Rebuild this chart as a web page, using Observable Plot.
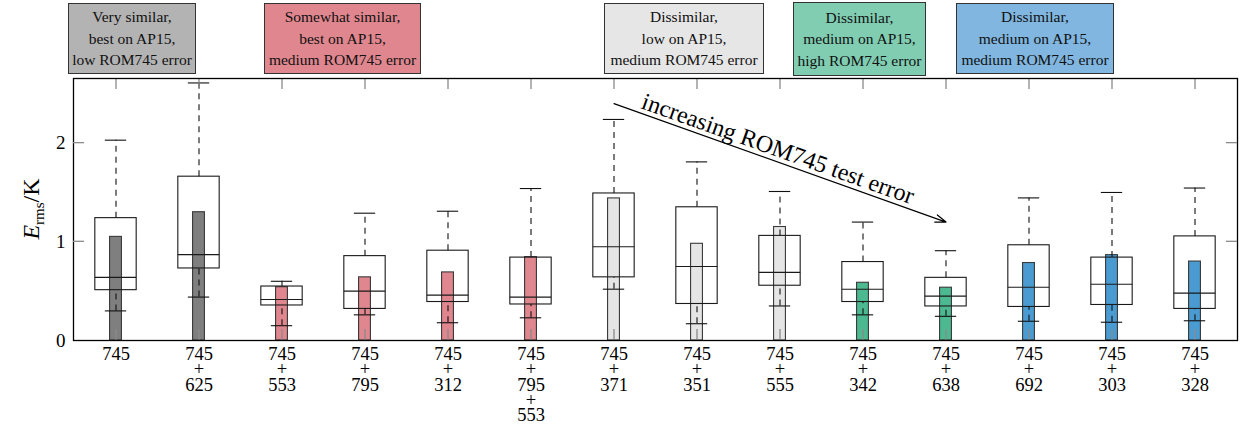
<!DOCTYPE html>
<html>
<head>
<meta charset="utf-8">
<script src="https://cdn.jsdelivr.net/npm/d3@7"></script>
<script src="https://cdn.jsdelivr.net/npm/@observablehq/plot@0.6"></script>
<style>
  html, body { margin: 0; padding: 0; background: #fff; }
  #wrap { position: relative; width: 1242px; height: 428px; font-family: "Liberation Serif", serif; }
  .lg { position: absolute; box-sizing: border-box; border: 1px solid #333; display: flex; flex-direction: column;
        justify-content: center; align-items: center; font-size: 15.5px; line-height: 21.5px; color: #111; }
  svg { display: block; }
</style>
</head>
<body>
<div id="wrap"></div>
<script>
// ---- data ----
const labels = ["745","745+625","745+553","745+795","745+312","745+795+553","745+371","745+351","745+555","745+342","745+638","745+692","745+303","745+328"];
const groups = [0,0,1,1,1,1,2,2,2,3,3,4,4,4];
const whiskerLow  = [0.30, 0.44, 0.15, 0.26, 0.18, 0.23, 0.52, 0.17, 0.35, 0.26, 0.245, 0.195, 0.185, 0.20];
const q1          = [0.51, 0.73, 0.355,0.32, 0.39, 0.365,0.64, 0.37, 0.555,0.39, 0.345, 0.34, 0.36, 0.32];
const median      = [0.64, 0.87, 0.415,0.50, 0.46, 0.44, 0.95, 0.75, 0.69, 0.52, 0.45, 0.54, 0.57, 0.48];
const q3          = [1.24, 1.66, 0.547,0.855,0.91, 0.84, 1.49, 1.35, 1.06, 0.795,0.635, 0.965,0.84, 1.055];
const whiskerHigh = [2.03, 2.61, 0.60, 1.29, 1.31, 1.54, 2.24, 1.81, 1.51, 1.20, 0.91, 1.445,1.50, 1.545];
const barValue    = [1.05, 1.30, 0.54, 0.64, 0.69, 0.845,1.44, 0.98, 1.15, 0.585,0.535, 0.785,0.865,0.80];
const yTicks = [0, 1, 2];
const barColors    = ["#7f7f7f", "#e0868e", "#e5e5e5", "#4cb991", "#4a9bd1"];
const legendColors = ["#b3b3b3", "#e0868e", "#e6e6e6", "#80cdb2", "#80b6df"];
const legendLabels = [
  ["Very similar,", "best on AP15,", "low ROM745 error"],
  ["Somewhat similar,", "best on AP15,", "medium ROM745 error"],
  ["Dissimilar,", "low on AP15,", "medium ROM745 error"],
  ["Dissimilar,", "medium on AP15,", "high ROM745 error"],
  ["Dissimilar,", "medium on AP15,", "medium ROM745 error"]
];
const annotation = {from: "745+371", fromY: 2.4, to: "745+638", toY: 1.2, textAt: "745+555", textY: 1.8, text: "increasing ROM745 test error"};

const rows = labels.map((l, i) => ({
  label: l, group: groups[i], lo: whiskerLow[i], q1: q1[i], med: median[i], q3: q3[i], hi: whiskerHigh[i], bar: barValue[i]
}));

// ---- layout ----
const W = 1242, H = 428, mL = 73, mR = 5, mT = 78, mB = 88;
const bw = (W - mL - mR) / labels.length;
const boxInset = (bw - 41.5) / 2;
const barInset = (bw - 12) / 2;
const capInset = (bw - 21.5) / 2;
const font = "Liberation Serif, serif";
const tickLen = 11;
const yMax = 2.655;
const tickData = yMax * tickLen / (H - mT - mB);

const plot = Plot.plot({
  width: W, height: H,
  marginLeft: mL, marginRight: mR, marginTop: mT, marginBottom: mB,
  style: {fontFamily: font, background: "transparent"},
  x: {type: "band", domain: labels, padding: 0, label: null},
  y: {domain: [0, yMax], label: null},
  marks: [
    Plot.rect(rows, {x: "label", y1: 0, y2: "bar", fill: d => barColors[d.group], stroke: "#3a3a3a", strokeWidth: 1.1, insetLeft: barInset, insetRight: barInset}),
    Plot.ruleX(rows, {x: "label", y1: "q3", y2: "hi", stroke: "#111", strokeWidth: 1.1, strokeDasharray: "6,5"}),
    Plot.ruleX(rows, {x: "label", y1: "lo", y2: "q1", stroke: "#111", strokeWidth: 1.1, strokeDasharray: "6,5"}),
    Plot.rect(rows, {x: "label", y1: "q1", y2: "q3", fill: "none", stroke: "#1a1a1a", strokeWidth: 1.1, insetLeft: boxInset, insetRight: boxInset}),
    Plot.tickY(rows, {x: "label", y: "med", stroke: "#1a1a1a", strokeWidth: 1.1, insetLeft: boxInset, insetRight: boxInset}),
    Plot.tickY(rows, {x: "label", y: "hi", stroke: "#111", strokeWidth: 1.1, insetLeft: capInset, insetRight: capInset}),
    Plot.tickY(rows, {x: "label", y: "lo", stroke: "#111", strokeWidth: 1.1, insetLeft: capInset, insetRight: capInset}),
    // inner x ticks top & bottom
    Plot.ruleX(labels, {x: d => d, y1: 0, y2: tickData, stroke: "#8a8a8a", strokeWidth: 1.3}),
    Plot.ruleX(labels, {x: d => d, y1: yMax, y2: yMax - tickData, stroke: "#8a8a8a", strokeWidth: 1.3}),
    Plot.frame({stroke: "#000", strokeWidth: 1.3}),
    Plot.axisY(yTicks, {tickSize: 0, tickPadding: 8, fontSize: 19, fontFamily: font, fill: "#000", label: null, tickFormat: d => String(d)}),
    Plot.axisX({tickSize: 0, tickPadding: 9, fontSize: 18.5, fontFamily: font, fill: "#000", label: null, lineHeight: 0.82,
      tickFormat: d => d.split("+").join("\n+\n")}),
    Plot.arrow([annotation], {x1: "from", y1: "fromY", x2: "to", y2: "toY", stroke: "#000", strokeWidth: 1.2, headLength: 14, headAngle: 40}),
    Plot.text([annotation], {x: "textAt", y: "textY", text: "text", rotate: 19.6, dx: -2, dy: -14, fontSize: 24, fontFamily: font, fill: "#000"})
  ]
});

// inward y ticks (left and right) using the plot's y scale
const ys = plot.scale("y");
const svg = d3.select(plot);
const g = svg.append("g").attr("stroke", "#8a8a8a").attr("stroke-width", 1.3);
for (const t of yTicks.filter(t => t > 0)) {
  const py = ys.apply(t);
  g.append("line").attr("x1", mL).attr("x2", mL + tickLen).attr("y1", py).attr("y2", py);
  g.append("line").attr("x1", W - mR).attr("x2", W - mR - tickLen).attr("y1", py).attr("y2", py);
}
// y axis title
const yl = svg.append("text")
  .attr("transform", `translate(39,${(mT + H - mB) / 2}) rotate(-90)`)
  .attr("text-anchor", "middle").attr("font-family", font).attr("font-size", 24).attr("fill", "#000");
yl.append("tspan").attr("font-style", "italic").text("E");
yl.append("tspan").attr("font-size", 15).attr("dy", 5).text("rms");
yl.append("tspan").attr("dy", -5).text("/K");

const wrap = document.getElementById("wrap");
wrap.appendChild(plot);

// legend boxes
const legendBoxes = [
  {left: 68, top: 3, width: 128, height: 71},
  {left: 264, top: 3, width: 157, height: 71},
  {left: 604, top: 3, width: 160, height: 71},
  {left: 793, top: 2, width: 133, height: 74},
  {left: 956, top: 3, width: 158, height: 71}
];
legendLabels.forEach((lines, i) => {
  const d = document.createElement("div");
  d.className = "lg";
  const b = legendBoxes[i];
  Object.assign(d.style, {left: b.left + "px", top: b.top + "px", width: b.width + "px", height: b.height + "px", background: legendColors[i]});
  lines.forEach(t => { const s = document.createElement("div"); s.textContent = t; d.appendChild(s); });
  wrap.appendChild(d);
});
</script>
</body>
</html>
